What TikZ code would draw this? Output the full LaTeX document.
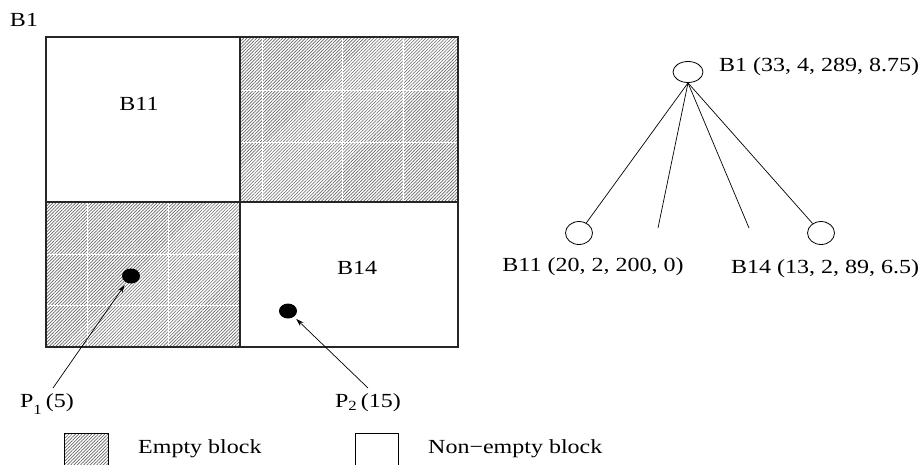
\documentclass[tikz,border=0pt]{standalone}
\usepackage{fontspec}
\usepackage{graphicx}
\setmainfont{Liberation Serif}
\usetikzlibrary{patterns.meta,arrows.meta,shapes.geometric}

% labels are set a little wider than the font's natural width
\newcommand{\widetext}[1]{\scalebox{1.2}[1]{#1}}

\tikzset{
  lbl/.style={font=\fontsize{20}{24}\selectfont, inner sep=0pt},
  frame/.style={draw=black!85, line width=1.1pt},
  hatched/.style={pattern={Lines[angle=45,distance=2.3pt,line width=0.65pt]}, pattern color=black!60},
  seam/.style={draw=white, line width=0.4pt},
  pointdot/.style={ellipse, fill=black, minimum width=18pt, minimum height=15pt, inner sep=0pt},
  treenode/.style={ellipse, draw, line width=0.8pt, minimum width=27pt, minimum height=23pt, inner sep=0pt},
  edge/.style={line width=0.7pt},
  pointer/.style={line width=0.7pt, -{Stealth[length=8pt,width=5pt]}, shorten >=3pt},
}

\begin{document}
\begin{tikzpicture}[x=1pt,y=-1pt]
  \useasboundingbox (0,0) rectangle (920,464);
  \clip (0,0) rectangle (920,464);

  % --- block B1 split into four quadrants ---
  \fill[hatched] (240,37) rectangle (458,202);
  \fill[hatched] (46,202) rectangle (240,347);
  % faint seams inside the hatching
  \draw[seam] (262,37) -- (262,202) (342,37) -- (342,202) (403,37) -- (403,202)
              (240,90) -- (458,90) (240,142) -- (458,142);
  \draw[seam] (87,202) -- (87,347) (168,202) -- (168,347)
              (46,254) -- (240,254) (46,305) -- (240,305);
  \draw[frame] (46,37) rectangle (458,347);
  \draw[frame] (240,37) -- (240,347);
  \draw[frame] (46,202) -- (458,202);

  \node[lbl] (b1top) at (24,20) {\widetext{B1}};
  \node[lbl] (b11cell) at (139,104) {\widetext{B11}};
  \node[lbl] (b14cell) at (357,268) {\widetext{B14}};

  % --- data points ---
  \node[pointdot] (p1dot) at (131,276) {};
  \node[pointdot] (p2dot) at (288,311) {};
  \coordinate (p1tail) at (53,388);
  \coordinate (p2tail) at (368,388);
  \draw[pointer] (p1tail) -- (p1dot);
  \draw[pointer] (p2tail) -- (p2dot);
  \node[lbl] (p1lab) at (47,404) {\widetext{P\raisebox{-7pt}{\fontsize{14}{16}\selectfont 1}\,(5)}};
  \node[lbl] (p2lab) at (368,403) {\widetext{P\raisebox{-3pt}{\fontsize{14}{16}\selectfont 2}\,(15)}};

  % --- legend ---
  \fill[hatched] (64,433) rectangle (108,475);
  \draw[line width=0.8pt] (64,475) -- (64,433) -- (108,433) -- (108,475);
  \node[lbl, anchor=west] (emptylab) at (138,449) {\widetext{Empty block}};
  \draw[line width=0.8pt] (355,475) -- (355,433) -- (398,433) -- (398,475);
  \node[lbl, anchor=west] (nonemptylab) at (428,449) {\widetext{Non−empty block}};

  % --- tree ---
  \node[treenode, minimum width=30pt, minimum height=21pt] (root) at (688,72) {};
  \node[treenode] (c11) at (579,233) {};
  \node[treenode] (c14) at (821,233) {};
  \coordinate (c12) at (658,228);
  \coordinate (c13) at (749,228);
  \draw[edge] (root.south) -- (c11);
  \draw[edge] (root.south) -- (c12);
  \draw[edge] (root.south) -- (c13);
  \draw[edge] (root.south) -- (c14);

  \node[lbl, anchor=west] (rootlab) at (719,67) {\widetext{B1 (33, 4, 289, 8.75)}};
  \node[lbl] (c11lab) at (593,267) {\widetext{B11 (20, 2, 200, 0)}};
  \node[lbl] (c14lab) at (825,269) {\widetext{B14 (13, 2, 89, 6.5)}};
\end{tikzpicture}
\end{document}
